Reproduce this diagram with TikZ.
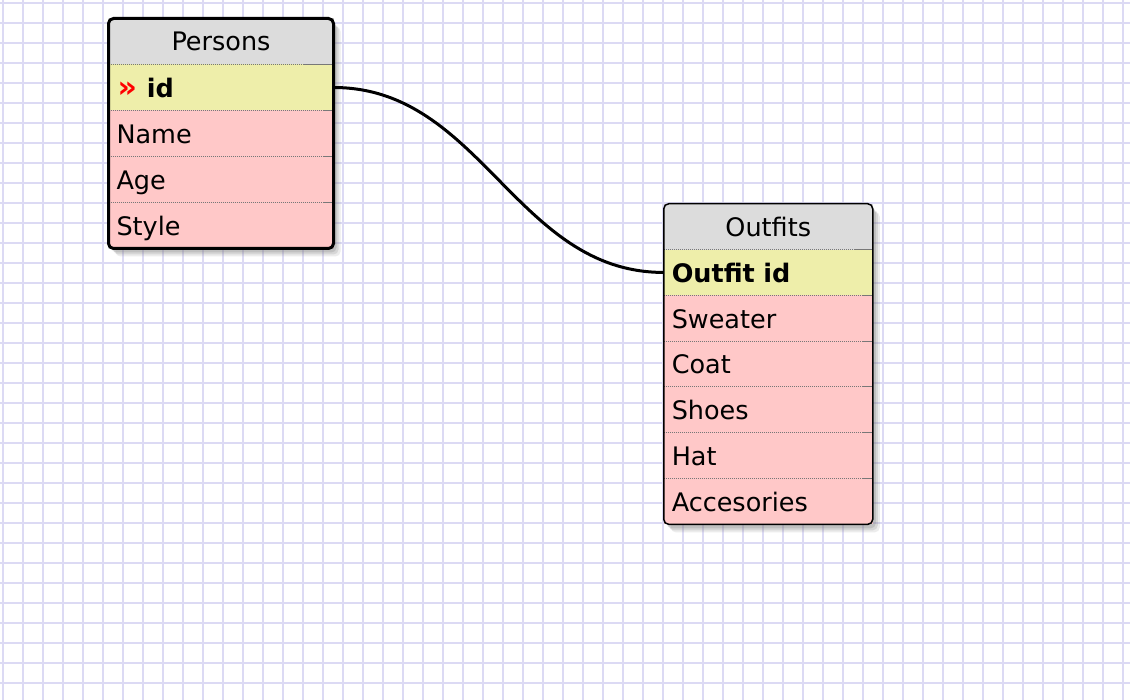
\documentclass[tikz,border=0pt]{standalone}
\usepackage{fontspec}
\setmainfont{DejaVu Sans}
\usetikzlibrary{positioning,shadows,backgrounds}

\definecolor{gridline}{RGB}{220,218,244}
\definecolor{headgray}{RGB}{220,220,220}
\definecolor{keyyellow}{RGB}{238,238,170}
\definecolor{rowpink}{RGB}{255,200,200}
\definecolor{sepgray}{RGB}{120,120,120}

\begin{document}
\begin{tikzpicture}[x=0.5pt, y=-0.5pt,
    every node/.style = {font=\fontsize{12.75}{15}\selectfont, inner sep=0pt, outer sep=0pt},
    head/.style = {fill=headgray, align=center, text height=10pt, text depth=0.5pt},
    row/.style = {fill=rowpink, align=left, inner xsep=4pt, text height=11pt, text depth=1.2pt},
    key/.style = {row, fill=keyyellow, font=\fontsize{12.75}{15}\selectfont\bfseries},
    phead/.style = {head, text width=112.5pt, minimum height=23pt},
    prow/.style = {row, text width=104.5pt, minimum height=23pt},
    ohead/.style = {head, text width=104.5pt, minimum height=22.9pt},
    orow/.style = {row, text width=96.5pt, minimum height=22.9pt},
    sep/.style = {sepgray, line width=0.5pt, dash pattern=on 0.5pt off 0.5pt},
    septail/.style = {sepgray, line width=0.5pt},
    frame/.style = {draw=black, rounded corners=2.5pt},
    softshadow/.style = {rounded corners=2.5pt,
        drop shadow={shadow xshift=3.5pt, shadow yshift=-4pt, opacity=.15},
        drop shadow={shadow xshift=2.5pt, shadow yshift=-3pt, opacity=.2},
        drop shadow={shadow xshift=1.5pt, shadow yshift=-2pt, opacity=.25}},
    link/.style = {draw=black, line width=1.5pt}]

    \useasboundingbox (0,0) rectangle (1130,700);

    % paper grid
    \begin{scope}[on background layer]
    \fill[white] (0,0) rectangle (1130,700);
    \foreach \gx in {3,23,...,1123}
        \draw[gridline, line width=1pt] (\gx,0) -- (\gx,700);
    \foreach \gy in {3,23,...,703}
        \draw[gridline, line width=1pt] (0,\gy) -- (1130,\gy);
    \end{scope}

    % Persons
    \node[phead, anchor=north west] (persons) at (108.5,18.5) {Persons};
    \node[key, text width=104.5pt, minimum height=23pt, below=0pt of persons] (pid)
        {\hspace{0.5pt}{\color{red}\fontsize{15}{15}\selectfont»}\hspace{5pt}id};
    \node[prow, below=0pt of pid] (pname) {Name};
    \node[prow, below=0pt of pname] (page) {Age};
    \node[prow, below=0pt of page] (pstyle) {Style};

    % Outfits
    \node[ohead, anchor=north west] (outfits) at (663.75,203.75) {Outfits};
    \node[key, text width=96.5pt, minimum height=22.9pt, below=0pt of outfits] (oid) {Outfit id};
    \node[orow, below=0pt of oid] (osweater) {Sweater};
    \node[orow, below=0pt of osweater] (ocoat) {Coat};
    \node[orow, below=0pt of ocoat] (oshoes) {Shoes};
    \node[orow, below=0pt of oshoes] (ohat) {Hat};
    \node[orow, below=0pt of ohat] (oacc) {Accesories};

    % row rules
    \foreach \r/\t in {pid/15pt, pname/5pt, page/5pt, pstyle/5pt,
                       oid/9pt, osweater/5pt, ocoat/5pt, oshoes/5pt, ohat/5pt, oacc/5pt} {
        \draw[sep] (\r.north west) -- (\r.north east);
        \draw[septail] ([xshift=-\t]\r.north east) -- (\r.north east);
    }

    % shadows
    \begin{scope}[on background layer]
    \path[softshadow] (persons.north west) rectangle (pstyle.south east);
    \path[softshadow] (outfits.north west) rectangle (oacc.south east);
    \end{scope}

    \draw[frame, line width=1.5pt] (persons.north west) rectangle (pstyle.south east);
    \draw[frame, line width=0.75pt] (outfits.north west) rectangle (oacc.south east);

    \draw[link] (pid.east) to [out=0, in=180] (oid.west);
\end{tikzpicture}
\end{document}
